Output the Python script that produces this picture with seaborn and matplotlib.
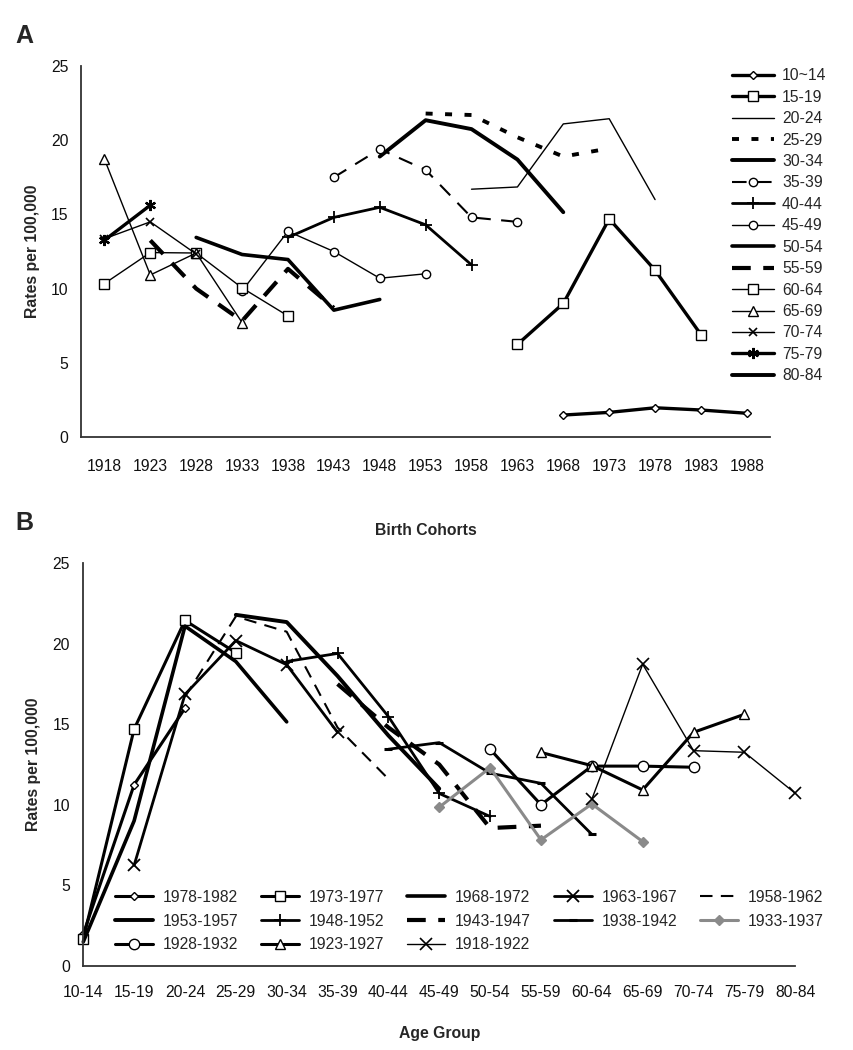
import numpy as np
import pandas as pd
import matplotlib
matplotlib.use("Agg")
import matplotlib.pyplot as plt
import seaborn as sns

nan = np.nan

# birth cohorts (panel A x axis)
cohorts = [1918, 1923, 1928, 1933, 1938, 1943, 1948, 1953, 1958, 1963,
           1968, 1973, 1978, 1983, 1988]

# age groups (panel A series, panel B x axis)
age_groups = ['10-14', '15-19', '20-24', '25-29', '30-34', '35-39', '40-44',
              '45-49', '50-54', '55-59', '60-64', '65-69', '70-74', '75-79',
              '80-84']
legend_a_labels = ['10~14', '15-19', '20-24', '25-29', '30-34', '35-39',
                   '40-44', '45-49', '50-54', '55-59', '60-64', '65-69',
                   '70-74', '75-79', '80-84']

# rates per 100,000, one list per age group, values by cohort 1918..1988
rates_10_14 = [nan, nan, nan, nan, nan, nan, nan, nan, nan, nan, 1.48, 1.66, 1.97, 1.82, 1.60]
rates_15_19 = [nan, nan, nan, nan, nan, nan, nan, nan, nan, 6.24, 9.0, 14.7, 11.24, 6.9, nan]
rates_20_24 = [nan, nan, nan, nan, nan, nan, nan, nan, 16.7, 16.85, 21.1, 21.45, 16.0, nan, nan]
rates_25_29 = [nan, nan, nan, nan, nan, nan, nan, 21.8, 21.7, 20.2, 18.9, 19.45, nan, nan, nan]
rates_30_34 = [nan, nan, nan, nan, nan, nan, 18.9, 21.35, 20.75, 18.7, 15.15, nan, nan, nan, nan]
rates_35_39 = [nan, nan, nan, nan, nan, 17.5, 19.4, 18.0, 14.8, 14.5, nan, nan, nan, nan, nan]
rates_40_44 = [nan, nan, nan, nan, 13.45, 14.8, 15.48, 14.3, 11.6, nan, nan, nan, nan, nan, nan]
rates_45_49 = [nan, nan, nan, 9.85, 13.86, 12.5, 10.7, 11.0, nan, nan, nan, nan, nan, nan, nan]
rates_50_54 = [nan, nan, 13.45, 12.3, 11.96, 8.55, 9.27, nan, nan, nan, nan, nan, nan, nan, nan]
rates_55_59 = [nan, 13.25, 10.0, 7.82, 11.33, 8.7, nan, nan, nan, nan, nan, nan, nan, nan, nan]
rates_60_64 = [10.34, 12.43, 12.4, 10.05, 8.16, nan, nan, nan, nan, nan, nan, nan, nan, nan, nan]
rates_65_69 = [18.73, 10.92, 12.4, 7.71, nan, nan, nan, nan, nan, nan, nan, nan, nan, nan, nan]
rates_70_74 = [13.36, 14.5, 12.33, nan, nan, nan, nan, nan, nan, nan, nan, nan, nan, nan, nan]
rates_75_79 = [13.26, 15.62, nan, nan, nan, nan, nan, nan, nan, nan, nan, nan, nan, nan, nan]
rates_80_84 = [10.71, nan, nan, nan, nan, nan, nan, nan, nan, nan, nan, nan, nan, nan, nan]

rates_by_age = [rates_10_14, rates_15_19, rates_20_24, rates_25_29, rates_30_34,
                rates_35_39, rates_40_44, rates_45_49, rates_50_54, rates_55_59,
                rates_60_64, rates_65_69, rates_70_74, rates_75_79, rates_80_84]

# panel B series (cohorts shown, in legend order, row by row)
b_cohorts = [1978, 1973, 1968, 1963, 1958, 1953, 1948, 1943, 1938, 1933,
             1928, 1923, 1918]
b_labels = ['1978-1982', '1973-1977', '1968-1972', '1963-1967', '1958-1962',
            '1953-1957', '1948-1952', '1943-1947', '1938-1942', '1933-1937',
            '1928-1932', '1923-1927', '1918-1922']

rows = []
for ai, (ag, vals) in enumerate(zip(age_groups, rates_by_age)):
    for ci, (c, v) in enumerate(zip(cohorts, vals)):
        rows.append({'age': ag, 'age_i': ai, 'cohort': c, 'cohort_i': ci, 'rate': v})
df = pd.DataFrame(rows).dropna()

K = 'black'
W = dict(markerfacecolor='white', markeredgecolor=K, markeredgewidth=1.0)

style_a = {
    '10-14': dict(lw=2.4, marker='D', ms=4.5, **W),
    '15-19': dict(lw=2.4, marker='s', ms=6.5, **W),
    '20-24': dict(lw=1.0),
    '25-29': dict(lw=2.8, linestyle=(0, (1.8, 3.2))),
    '30-34': dict(lw=2.8),
    '35-39': dict(lw=1.5, linestyle=(0, (7, 5))),
    '40-44': dict(lw=2.0, marker='+', ms=8, markeredgewidth=1.3, markeredgecolor=K),
    '45-49': dict(lw=1.0, marker='o', ms=6, **W),
    '50-54': dict(lw=2.6),
    '55-59': dict(lw=3.0, linestyle=(0, (4.5, 3))),
    '60-64': dict(lw=1.0, marker='s', ms=6.5, **W),
    '65-69': dict(lw=1.0, marker='^', ms=7, **W),
    '70-74': dict(lw=1.0, marker='x', ms=6, markeredgewidth=1.2, markeredgecolor=K),
    '75-79': dict(lw=2.4, marker=(6, 2, 0), ms=8, markeredgewidth=1.6, markeredgecolor=K),
    '80-84': dict(lw=2.8),
}
style_a['35-39'].update(marker='o', ms=6, **W)

GREY = '#8a8a8a'
style_b = {
    1978: dict(lw=2.2, marker='D', ms=4.5, **W),
    1973: dict(lw=2.2, marker='s', ms=7, **W),
    1968: dict(lw=2.6),
    1963: dict(lw=2.0, marker='x', ms=8, markeredgewidth=1.3, markeredgecolor=K),
    1958: dict(lw=1.5, linestyle=(0, (6, 4))),
    1953: dict(lw=2.8),
    1948: dict(lw=2.0, marker='+', ms=9, markeredgewidth=1.3, markeredgecolor=K),
    1943: dict(lw=3.0, linestyle=(0, (4.5, 3))),
    1938: dict(lw=2.0, marker='_', ms=6, markeredgewidth=2.2, markeredgecolor=K),
    1933: dict(lw=2.2, color=GREY, marker='D', ms=5.5, markerfacecolor=GREY,
               markeredgecolor=GREY, markeredgewidth=1.0),
    1928: dict(lw=2.2, marker='o', ms=7.5, **W),
    1923: dict(lw=2.2, marker='^', ms=7.5, **W),
    1918: dict(lw=1.0, marker='x', ms=8, markeredgewidth=1.2, markeredgecolor=K),
}

sns.set_style('white')
plt.rcParams['font.family'] = ['Liberation Sans', 'DejaVu Sans']
FS = 11.3

fig = plt.figure(figsize=(8.54, 10.5), dpi=100)
axA = fig.add_axes([0.0954, 0.5838, 0.806, 0.3533])
axB = fig.add_axes([0.0975, 0.0803, 0.8337, 0.3832])

# panel A: one line per age group across birth cohorts
for ag, lab in zip(age_groups, legend_a_labels):
    sub = df[df['age'] == ag]
    kw = dict(color=K)
    kw.update(style_a[ag])
    sns.lineplot(data=sub, x='cohort_i', y='rate', ax=axA, label=lab,
                 errorbar=None, sort=False, clip_on=False, **kw)

# panel B: one line per cohort across age groups
for c, lab in zip(b_cohorts, b_labels):
    sub = df[df['cohort'] == c]
    kw = dict(color=K)
    kw.update(style_b[c])
    sns.lineplot(data=sub, x='age_i', y='rate', ax=axB, label=lab,
                 errorbar=None, sort=False, clip_on=False, **kw)

for ax in (axA, axB):
    sns.despine(ax=ax)
    for s in ('left', 'bottom'):
        ax.spines[s].set_color('#333333')
        ax.spines[s].set_linewidth(1.3)
    ax.set_ylim(0, 25)
    ax.set_yticks(range(0, 26, 5))
    ax.tick_params(axis='both', which='both', direction='out', color='#333333',
                   width=1.1, length=6, labelsize=FS, labelcolor='#111111')
    ax.set_ylabel('Rates per 100,000', fontsize=FS, fontweight='bold')

axA.set_xlim(-0.5, 14.5)
axA.set_xticks(range(len(cohorts)))
axA.set_xticklabels([str(c) for c in cohorts])
axA.set_xticks(np.arange(-0.5, 15, 1), minor=True)
axA.tick_params(axis='x', which='major', length=0, pad=16)
axA.set_xlabel('Birth Cohorts', fontsize=FS, fontweight='bold')
axA.xaxis.set_label_coords(0.5, -0.232)
axA.yaxis.set_label_coords(-0.06, 0.5)

axB.set_xlim(0, 14)
axB.set_xticks(range(len(age_groups)))
axB.set_xticklabels(age_groups)
axB.tick_params(axis='x', pad=8)
axB.set_xlabel('Age Group', fontsize=FS, fontweight='bold')
axB.xaxis.set_label_coords(0.5, -0.15)
axB.yaxis.set_label_coords(-0.06, 0.5)

axA.legend(loc='upper left', bbox_to_anchor=(0.8568, 0.935),
           bbox_transform=fig.transFigure, frameon=False, fontsize=FS,
           handlelength=2.7, handletextpad=0.5, labelspacing=0.41,
           borderpad=0, borderaxespad=0)

# matplotlib fills legend columns first; reorder so entries read row by row
handles, labels = axB.get_legend_handles_labels()
ncol, nrow = 5, 3
order = [r * ncol + col for col in range(ncol) for r in range(nrow)
         if r * ncol + col < len(handles)]
axB.legend([handles[i] for i in order], [labels[i] for i in order],
           loc='upper left', bbox_to_anchor=(0.1347, 0.1524),
           bbox_transform=fig.transFigure, frameon=False, fontsize=FS, ncol=ncol,
           handlelength=2.4, handletextpad=0.64, labelspacing=0.55,
           columnspacing=1.46, borderpad=0, borderaxespad=0)

fig.text(15 / 854, 1 - 43 / 1050, 'A', fontsize=18, fontweight='bold')
fig.text(15 / 854, 1 - 530 / 1050, 'B', fontsize=18, fontweight='bold')

fig.savefig('out.png', dpi=100)
plt.close(fig)
